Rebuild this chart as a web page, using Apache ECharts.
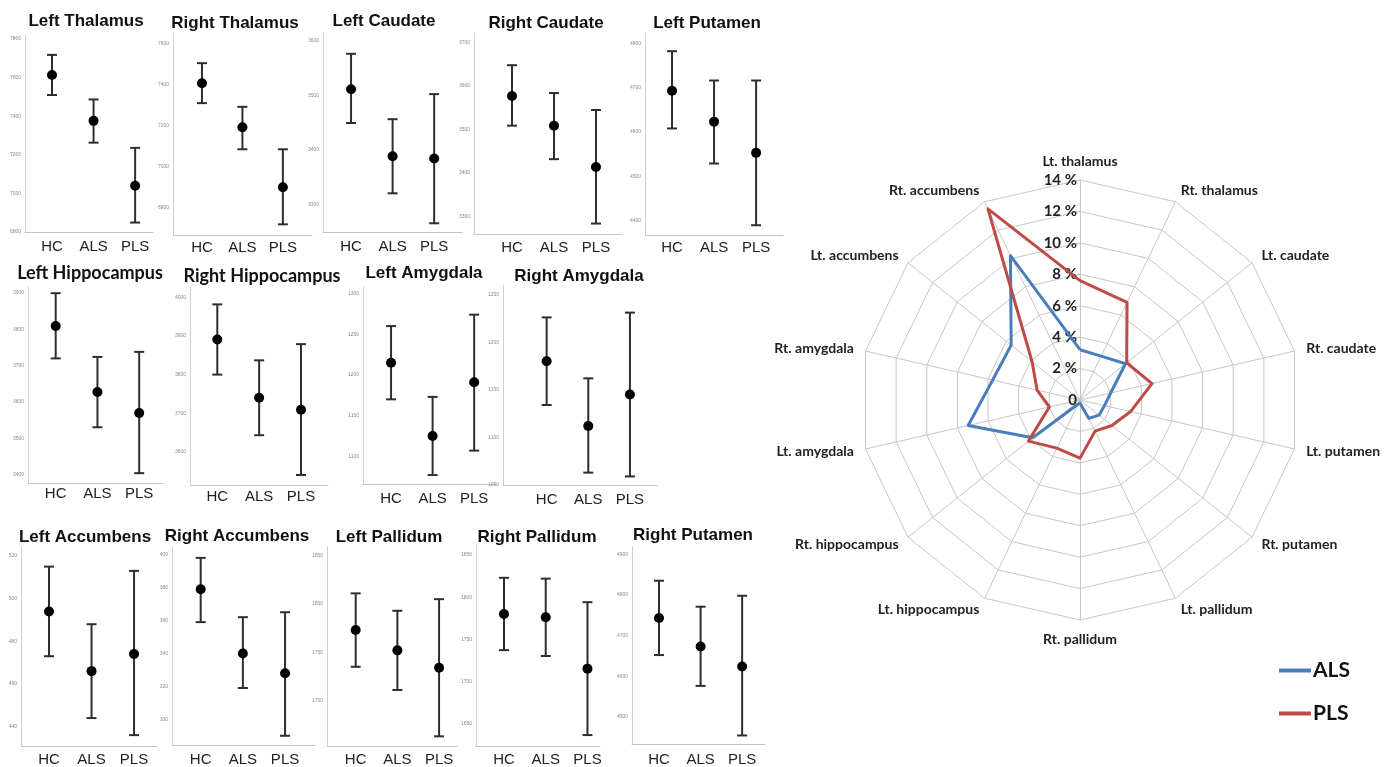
<!DOCTYPE html>
<html><head><meta charset="utf-8">
<script src="https://cdn.jsdelivr.net/npm/echarts@6/dist/echarts.min.js"></script>
<style>html,body{margin:0;padding:0;background:#fff}#c{width:1387px;height:767px}</style>
</head><body><div id="c"></div>
<script>
// ---------- DATA ----------
const groups = ['HC', 'ALS', 'PLS'];
// each row: [mean, lower CI, upper CI] for HC, ALS, PLS
const leftThalamus      = [[7614, 7510, 7718], [7376, 7263, 7487], [7040, 6849, 7236]];
const rightThalamus     = [[7405, 7308, 7503], [7190, 7083, 7290], [6898, 6717, 7083]];
const leftCaudate       = [[3511, 3449, 3576], [3388, 3320, 3456], [3384, 3265, 3502]];
const rightCaudate      = [[3577, 3509, 3648], [3509, 3432, 3584], [3414, 3284, 3545]];
const leftPutamen       = [[4693, 4608, 4782], [4623, 4529, 4716], [4553, 4390, 4716]];
const leftHippocampus   = [[3809, 3720, 3899], [3628, 3531, 3724], [3570, 3405, 3738]];
const rightHippocampus  = [[3891, 3800, 3982], [3740, 3643, 3837], [3709, 3540, 3879]];
const leftAmygdala      = [[1215, 1170, 1260], [1125, 1077, 1173], [1191, 1107, 1274]];
const rightAmygdala     = [[1180, 1134, 1226], [1112, 1063, 1162], [1145, 1059, 1231]];
const leftAccumbens     = [[494, 473, 515], [466, 444, 488], [474, 436, 513]];
const rightAccumbens    = [[379, 359, 398], [340, 319, 362], [328, 290, 365]];
const leftPallidum      = [[1773, 1735, 1811], [1752, 1711, 1793], [1734, 1663, 1805]];
const rightPallidum     = [[1780, 1737, 1823], [1776, 1730, 1822], [1715, 1636, 1794]];
const rightPutamen      = [[4743, 4652, 4835], [4673, 4576, 4771], [4624, 4454, 4798]];

const leftThalamusTicks     = [6800, 7000, 7200, 7400, 7600, 7800];
const rightThalamusTicks    = [6800, 7000, 7200, 7400, 7600];
const leftCaudateTicks      = [3300, 3400, 3500, 3600];
const rightCaudateTicks     = [3300, 3400, 3500, 3600, 3700];
const leftPutamenTicks      = [4400, 4500, 4600, 4700, 4800];
const leftHippocampusTicks  = [3400, 3500, 3600, 3700, 3800, 3900];
const rightHippocampusTicks = [3600, 3700, 3800, 3900, 4000];
const leftAmygdalaTicks     = [1100, 1150, 1200, 1250, 1300];
const rightAmygdalaTicks    = [1050, 1100, 1150, 1200, 1250];
const leftAccumbensTicks    = [440, 460, 480, 500, 520];
const rightAccumbensTicks   = [300, 320, 340, 360, 380, 400];
const leftPallidumTicks     = [1700, 1750, 1800, 1850];
const rightPallidumTicks    = [1650, 1700, 1750, 1800, 1850];
const rightPutamenTicks     = [4500, 4600, 4700, 4800, 4900];

const radarRegions = ['Lt. thalamus', 'Rt. thalamus', 'Lt. caudate', 'Rt. caudate', 'Lt. putamen', 'Rt. putamen',
  'Lt. pallidum', 'Rt. pallidum', 'Lt. hippocampus', 'Rt. hippocampus', 'Lt. amygdala', 'Rt. amygdala',
  'Lt. accumbens', 'Rt. accumbens'];
const alsPct = [3.2, 3.1, 3.7, 2.0, 1.6, 1.55, 1.3, 0.2, 0.3, 3.85, 7.3, 5.7, 5.6, 10.2];
const plsPct = [7.6, 6.9, 3.8, 4.7, 3.3, 2.6, 2.2, 3.7, 3.4, 4.2, 2.0, 2.8, 3.9, 13.5];
const radarMax = 14;

// ---------- LAYOUT ----------
const panels = [
  { title: 'Left Thalamus',     data: leftThalamus,     ticks: leftThalamusTicks,     L: 25,  R: 153, T: 35,  B: 232, yMin: 6800,  yMax: 7821,  xMin: 0.35,  xMax: 3.43,  tx: 86,  ty: 21,  labY: 247 },
  { title: 'Right Thalamus',    data: rightThalamus,    ticks: rightThalamusTicks,    L: 173, R: 312, T: 33,  B: 235, yMin: 6665,  yMax: 7650,  xMin: 0.284, xMax: 3.72,  tx: 235, ty: 23,  labY: 248 },
  { title: 'Left Caudate',      data: leftCaudate,      ticks: leftCaudateTicks,      L: 323, R: 462, T: 32,  B: 232, yMin: 3249,  yMax: 3616,  xMin: 0.325, xMax: 3.67,  tx: 384, ty: 21,  labY: 247 },
  { title: 'Right Caudate',     data: rightCaudate,     ticks: rightCaudateTicks,     L: 474, R: 622, T: 33,  B: 234, yMin: 3260,  yMax: 3722,  xMin: 0.095, xMax: 3.62,  tx: 546, ty: 23,  labY: 248 },
  { title: 'Left Putamen',      data: leftPutamen,      ticks: leftPutamenTicks,      L: 645, R: 783, T: 33,  B: 235, yMin: 4368,  yMax: 4823,  xMin: 0.357, xMax: 3.64,  tx: 707, ty: 23,  labY: 248 },
  { title: 'Left Hippocampus',  data: leftHippocampus,  ticks: leftHippocampusTicks,  L: 28,  R: 163, T: 287, B: 483, yMin: 3378,  yMax: 3916,  xMin: 0.337, xMax: 3.57,  tx: 90,  ty: 273, labY: 494 },
  { title: 'Right Hippocampus', data: rightHippocampus, ticks: rightHippocampusTicks, L: 190, R: 328, T: 287, B: 485, yMin: 3514,  yMax: 4027,  xMin: 0.348, xMax: 3.645, tx: 262, ty: 276, labY: 497 },
  { title: 'Left Amygdala',     data: leftAmygdala,     ticks: leftAmygdalaTicks,     L: 363, R: 497, T: 287, B: 484, yMin: 1066,  yMax: 1308,  xMin: 0.325, xMax: 3.55,  tx: 424, ty: 273, labY: 499 },
  { title: 'Right Amygdala',    data: rightAmygdala,    ticks: rightAmygdalaTicks,    L: 503, R: 657, T: 285, B: 485, yMin: 1050,  yMax: 1260,  xMin: -0.048,xMax: 3.65,  tx: 579, ty: 276, labY: 500 },
  { title: 'Left Accumbens',    data: leftAccumbens,    ticks: leftAccumbensTicks,    L: 21,  R: 157, T: 547, B: 748, yMin: 430.9, yMax: 524.2, xMin: 0.341, xMax: 3.54,  tx: 85,  ty: 537, labY: 762 },
  { title: 'Right Accumbens',   data: rightAccumbens,   ticks: rightAccumbensTicks,   L: 172, R: 315, T: 547, B: 747, yMin: 284.4, yMax: 404.6, xMin: 0.32,  xMax: 3.71,  tx: 237, ty: 536, labY: 762 },
  { title: 'Left Pallidum',     data: leftPallidum,     ticks: leftPallidumTicks,     L: 327, R: 457, T: 547, B: 748, yMin: 1653,  yMax: 1859,  xMin: 0.312, xMax: 3.43,  tx: 389, ty: 537, labY: 762 },
  { title: 'Right Pallidum',    data: rightPallidum,    ticks: rightPallidumTicks,    L: 476, R: 600, T: 545, B: 748, yMin: 1623,  yMax: 1862,  xMin: 0.33,  xMax: 3.30,  tx: 537, ty: 537, labY: 762 },
  { title: 'Right Putamen',     data: rightPutamen,     ticks: rightPutamenTicks,     L: 632, R: 765, T: 547, B: 746, yMin: 4433,  yMax: 4918,  xMin: 0.35,  xMax: 3.55,  tx: 693, ty: 535, labY: 762 }
];

const chart = echarts.init(document.getElementById('c'), null, { renderer: 'canvas' });

const grid = [], xAxis = [], yAxis = [], series = [], graphic = [];
panels.forEach((p, i) => {
  grid.push({ left: p.L, top: p.T, width: p.R - p.L, height: p.B - p.T, containLabel: false });
  xAxis.push({
    type: 'value', gridIndex: i, min: p.xMin, max: p.xMax,
    axisLine: { show: true, onZero: false, lineStyle: { color: '#c4c4c4', width: 1 } },
    axisTick: { show: false }, splitLine: { show: false },
    axisLabel: {
      customValues: [1, 2, 3], formatter: v => groups[Math.round(v) - 1] || '',
      fontSize: 15, color: '#222', fontFamily: 'Liberation Sans, Arial, sans-serif',
      margin: Math.max(0, p.labY - p.B - 8)
    }
  });
  yAxis.push({
    type: 'value', gridIndex: i, min: p.yMin, max: p.yMax,
    axisLine: { show: true, onZero: false, lineStyle: { color: '#cfcfcf', width: 1 } },
    axisTick: { show: false }, splitLine: { show: false },
    axisLabel: { customValues: p.ticks, formatter: v => String(v), fontSize: 5, color: '#8a8a8a', margin: 4, fontFamily: 'Liberation Sans, Arial, sans-serif' }
  });
  series.push({
    type: 'custom', xAxisIndex: i, yAxisIndex: i, clip: false,
    data: p.data.map((d, j) => [j + 1, d[0], d[1], d[2]]),
    encode: { x: 0, y: [1, 2, 3] },
    renderItem: function (params, api) {
      const x = api.value(0);
      const m = api.coord([x, api.value(1)]);
      const lo = api.coord([x, api.value(2)]);
      const hi = api.coord([x, api.value(3)]);
      const cap = 5;
      const st = { stroke: '#2e2e2e', lineWidth: 2, fill: null };
      return {
        type: 'group', children: [
          { type: 'line', shape: { x1: lo[0], y1: lo[1], x2: hi[0], y2: hi[1] }, style: st },
          { type: 'line', shape: { x1: lo[0] - cap, y1: lo[1], x2: lo[0] + cap, y2: lo[1] }, style: st },
          { type: 'line', shape: { x1: hi[0] - cap, y1: hi[1], x2: hi[0] + cap, y2: hi[1] }, style: st },
          { type: 'circle', shape: { cx: m[0], cy: m[1], r: 5 }, style: { fill: '#000', stroke: null } }
        ]
      };
    }
  });
  const hippo = p.title.indexOf('Hippocampus') >= 0;
  graphic.push({
    type: 'text', x: p.tx, y: p.ty,
    style: {
      text: p.title, fill: '#111', font: 'bold ' + (hippo ? '18px Lato, sans-serif' : '17px "Liberation Sans", Arial, sans-serif'),
      align: 'center', verticalAlign: 'middle'
    }
  });
});

// radar: ECharts lays indicators counter-clockwise, the reference runs clockwise
const order = [0].concat(radarRegions.map((_, k) => k).slice(1).reverse());

const option = {
  animation: false,
  backgroundColor: '#fff',
  grid, xAxis, yAxis, graphic,
  legend: {
    data: ['ALS', 'PLS'], orient: 'vertical', left: 1274, top: 655,
    icon: 'rect', itemWidth: 32, itemHeight: 4, itemGap: 22,
    textStyle: { fontSize: 21, fontWeight: 'bold', color: '#111', fontFamily: 'Lato, sans-serif', padding: [0, 0, 0, -3] }
  },
  radar: {
    center: [1080, 400], radius: 220, startAngle: 90, splitNumber: 7, shape: 'polygon',
    indicator: order.map(k => ({ name: radarRegions[k], min: 0, max: radarMax, axisLabel: { show: k === 0 } })),
    axisName: { color: '#222', fontWeight: 'bold', fontSize: 14, fontFamily: 'Lato, sans-serif' },
    nameGap: 12,
    splitLine: { lineStyle: { color: '#c6c6c6', width: 1 } },
    splitArea: { show: false },
    axisLine: { lineStyle: { color: '#c6c6c6', width: 1 } },
    axisTick: { show: false },
    axisLabel: {
      show: false, fontSize: 15, fontWeight: 'bold', color: '#222', fontFamily: 'Lato, sans-serif', margin: 3,
      formatter: v => (v === 0 ? '0' : v + ' %')
    }
  },
  series: series.concat([{
    type: 'radar', symbol: 'none',
    data: [
      { name: 'ALS', value: order.map(k => alsPct[k]), lineStyle: { color: '#4a7ebb', width: 3 }, itemStyle: { color: '#4a7ebb' } },
      { name: 'PLS', value: order.map(k => plsPct[k]), lineStyle: { color: '#be4b48', width: 3 }, itemStyle: { color: '#be4b48' } }
    ]
  }])
};
chart.setOption(option);
</script>
</body></html>
